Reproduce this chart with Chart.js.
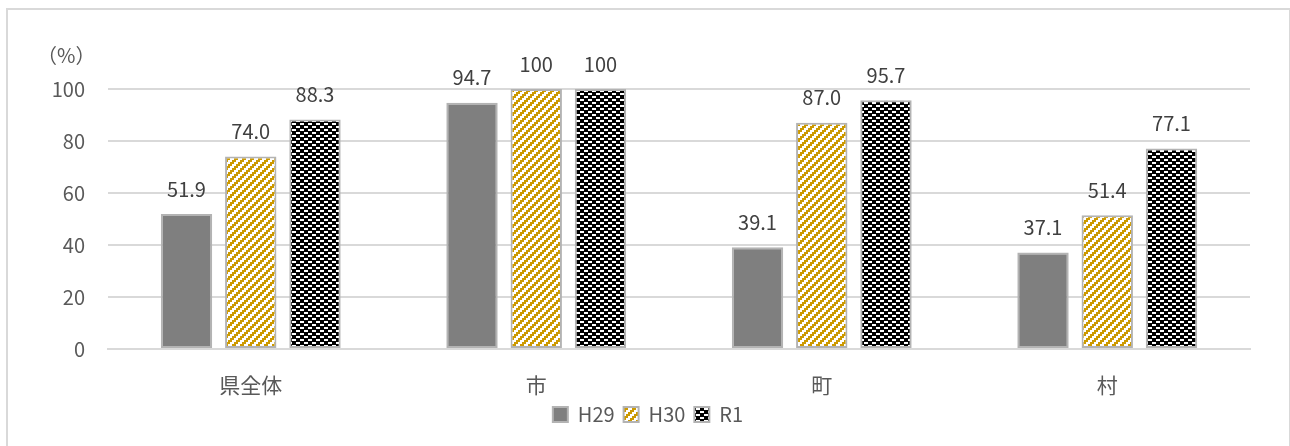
<!DOCTYPE html>
<html>
<head>
<meta charset="utf-8">
<script src="https://cdn.jsdelivr.net/npm/chart.js@4"></script>
<style>
  body { margin: 0; background: #fff; overflow: hidden; }
  #frame { position: absolute; left: 6px; top: 8px; width: 1281px; height: 460px; border: 2px solid #d9d9d9; }
  #chart { position: absolute; left: 0; top: 0; }
</style>
</head>
<body>
<div id="frame"></div>
<canvas id="chart" width="1290" height="446"></canvas>
<script>
// Data
const categories = ['県全体', '市', '町', '村'];
const seriesNames = ['H29', 'H30', 'R1'];
const h29 = [51.9, 94.7, 39.1, 37.1];
const h30 = [74.0, 100, 87.0, 51.4];
const r1 = [88.3, 100, 95.7, 77.1];
const yTicks = [0, 20, 40, 60, 80, 100];

const FONT = '"Noto Sans CJK JP", "Noto Sans", sans-serif';

// Build small tile patterns like the Excel fills
function makePattern(w, h, color, bg, isOn) {
    const c = document.createElement('canvas');
    c.width = w; c.height = h;
    const g = c.getContext('2d');
    g.fillStyle = bg;
    g.fillRect(0, 0, w, h);
    g.fillStyle = color;
    for (let y = 0; y < h; y++) {
        for (let x = 0; x < w; x++) {
            if (isOn(x, y)) g.fillRect(x, y, 1, 1);
        }
    }
    return document.getElementById('chart').getContext('2d').createPattern(c, 'repeat');
}

// wide upward diagonal, gold
const goldDiag = makePattern(8, 8, '#cc9900', '#ffffff', (x, y) => (((x >> 1) + (y >> 1)) % 4) < 2);
// black with staggered white dashes
const blackCheck = makePattern(8, 6, '#ffffff', '#000000', (x, y) => {
    const r = y % 6;
    if (r === 0 || r === 1) return (x % 8) < 4;
    if (r === 3 || r === 4) return (x % 8) >= 4;
    return false;
});

const fmt = v => (v === 100 ? '100' : v.toFixed(1));

// Value labels above bars and the (%) unit
const labelPlugin = {
    id: 'labels',
    afterDatasetsDraw(chart) {
        const ctx = chart.ctx;
        ctx.save();
        ctx.font = '20px ' + FONT;
        ctx.fillStyle = '#404040';
        ctx.textAlign = 'center';
        ctx.textBaseline = 'middle';
        chart.data.datasets.forEach((ds, i) => {
            chart.getDatasetMeta(i).data.forEach((bar, j) => {
                ctx.fillText(fmt(ds.data[j]), bar.x, bar.y - 25);
            });
        });
        ctx.fillStyle = '#595959';
        ctx.textAlign = 'left';
        ctx.font = '20px ' + FONT;
        ctx.fillText('（%）', 37, 55);
        ctx.restore();
    }
};

new Chart(document.getElementById('chart'), {
    type: 'bar',
    data: {
        labels: categories,
        datasets: [
            { label: seriesNames[0], data: h29, backgroundColor: '#7f7f7f' },
            { label: seriesNames[1], data: h30, backgroundColor: goldDiag },
            { label: seriesNames[2], data: r1, backgroundColor: blackCheck }
        ]
    },
    options: {
        responsive: false,
        animation: false,
        events: [],
        datasets: {
            bar: {
                categoryPercentage: 0.675,
                barPercentage: 0.8,
                borderColor: '#b3b3b3',
                borderWidth: 2,
                borderSkipped: false
            }
        },
        layout: { padding: { left: 46, right: 40, top: 89, bottom: 11.5 } },
        scales: {
            x: {
                grid: { display: false, drawTicks: false },
                border: { display: true, color: '#d9d9d9', width: 2 },
                ticks: { color: '#595959', font: { size: 21, family: FONT }, padding: 23 },
                afterFit: s => { s.height = 46.5; }
            },
            y: {
                min: 0,
                max: 100,
                afterBuildTicks: s => { s.ticks = yTicks.map(v => ({ value: v })); },
                grid: { color: '#d9d9d9', lineWidth: 2, drawTicks: false },
                border: { display: false },
                ticks: { color: '#595959', font: { size: 20, family: FONT }, padding: 23 },
                afterFit: s => { s.width = 62; }
            }
        },
        plugins: {
            legend: {
                position: 'bottom',
                labels: {
                    color: '#595959',
                    font: { size: 20, family: FONT },
                    boxWidth: 15,
                    boxHeight: 15,
                    padding: 9
                }
            },
            tooltip: { enabled: false }
        }
    },
    plugins: [labelPlugin]
});
</script>
</body>
</html>
